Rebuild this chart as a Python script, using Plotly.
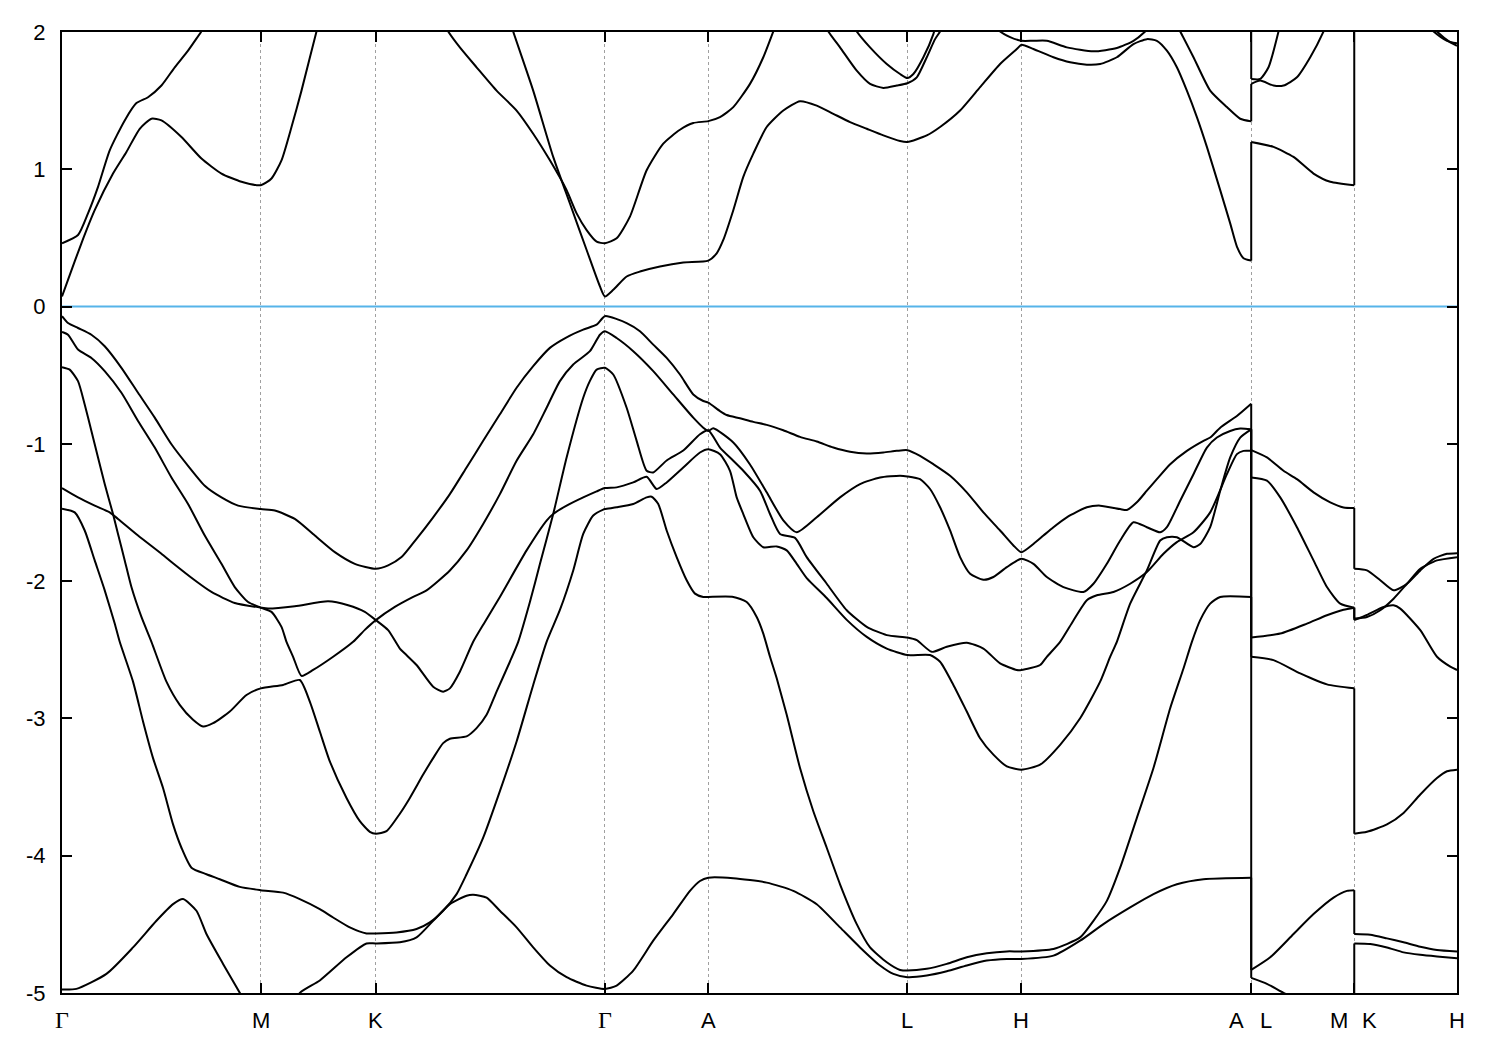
import plotly.graph_objects as go

# ---- axes / labels -------------------------------------------------------
k_ticks = [0.0, 1.987, 3.137, 5.427, 6.460, 8.450, 9.590, 11.887, 12.917, 13.944]
k_labels = ["Γ", "M", "K", "Γ", "A", "L", "H", "A|L", "M|K", "H"]
e_ticks = [2, 1, 0, -1, -2, -3, -4, -5]
e_tick_text = ["2", "1", "0", "-1", "-2", "-3", "-4", "-5"]
e_range = [-5, 2]
e_fermi = 0.0

# ---- valence bands (k, E in eV) ------------------------------------------
v1 = [(0.000,-0.070),(0.060,-0.120),(0.160,-0.156),(0.294,-0.205),(0.427,-0.289),(0.594,-0.446),(0.760,-0.628),(0.927,-0.809),(1.094,-1.003),(1.260,-1.160),(1.427,-1.305),(1.594,-1.390),(1.760,-1.450),(1.987,-1.475),
      (2.127,-1.486),(2.327,-1.547),(2.527,-1.668),(2.727,-1.789),(2.927,-1.874),(3.137,-1.910),
      (3.260,-1.885),(3.394,-1.825),(3.544,-1.692),(3.710,-1.535),(3.877,-1.366),(4.044,-1.172),(4.210,-0.978),(4.377,-0.785),(4.544,-0.591),(4.710,-0.434),(4.877,-0.301),(5.044,-0.224),(5.210,-0.168),(5.344,-0.132),(5.427,-0.070),
      (5.644,-0.120),(5.777,-0.180),(5.910,-0.277),(6.044,-0.374),(6.177,-0.495),(6.310,-0.640),(6.410,-0.688),(6.460,-0.700),
      (6.577,-0.761),(6.644,-0.790),(6.777,-0.814),(6.910,-0.840),(7.044,-0.862),(7.210,-0.901),(7.377,-0.949),(7.544,-0.983),(7.710,-1.027),(7.877,-1.058),(8.044,-1.070),(8.210,-1.063),(8.344,-1.051),(8.450,-1.046),
      (8.577,-1.087),(8.710,-1.148),(8.877,-1.232),(9.044,-1.353),(9.210,-1.499),(9.377,-1.631),(9.510,-1.740),(9.590,-1.789),
      (9.710,-1.729),(9.810,-1.668),(9.910,-1.607),(10.044,-1.535),(10.244,-1.462),(10.377,-1.450),(10.577,-1.475),(10.644,-1.482),(10.744,-1.426),(10.844,-1.341),(10.944,-1.257),(11.077,-1.148),(11.244,-1.051),(11.410,-0.978),(11.477,-0.954),(11.577,-0.882),(11.744,-0.797),(11.887,-0.708),
      (11.887,-1.046),(12.044,-1.099),(12.210,-1.196),(12.344,-1.257),(12.510,-1.353),(12.677,-1.426),(12.810,-1.463),(12.917,-1.467),
      (12.917,-1.910),(13.044,-1.922),(13.177,-1.994),(13.310,-2.067),(13.444,-2.019),(13.577,-1.922),(13.710,-1.837),(13.844,-1.801),(13.944,-1.796)]

v2 = [(0.000,-0.185),(0.060,-0.205),(0.160,-0.313),(0.294,-0.374),(0.427,-0.470),(0.594,-0.628),(0.760,-0.833),(0.927,-1.027),(1.094,-1.245),(1.260,-1.438),(1.427,-1.668),(1.594,-1.874),(1.727,-2.043),(1.860,-2.152),(1.987,-2.193),
      (2.094,-2.224),(2.194,-2.333),(2.244,-2.442),(2.310,-2.551),(2.394,-2.690),(2.510,-2.647),(2.710,-2.551),(2.910,-2.442),(3.027,-2.355),(3.137,-2.284),
      (3.327,-2.188),(3.510,-2.115),(3.644,-2.067),(3.877,-1.922),(4.044,-1.776),(4.210,-1.583),(4.377,-1.366),(4.544,-1.123),(4.710,-0.930),(4.844,-0.737),(4.977,-0.543),(5.110,-0.422),(5.277,-0.325),(5.377,-0.205),(5.427,-0.180),
      (5.544,-0.229),(5.710,-0.325),(5.910,-0.470),(6.110,-0.640),(6.310,-0.809),(6.410,-0.882),(6.460,-0.906),
      (6.510,-0.887),(6.710,-0.990),(6.877,-1.150),(7.044,-1.353),(7.210,-1.557),(7.344,-1.644),(7.544,-1.535),(7.777,-1.390),(7.977,-1.293),(8.177,-1.245),(8.377,-1.232),(8.450,-1.237),
      (8.577,-1.257),(8.677,-1.329),(8.777,-1.462),(8.877,-1.631),(8.977,-1.825),(9.077,-1.946),(9.210,-1.990),(9.310,-1.970),(9.444,-1.898),(9.590,-1.837),
      (9.710,-1.874),(9.844,-1.970),(10.010,-2.043),(10.210,-2.079),(10.310,-2.019),(10.444,-1.874),(10.577,-1.704),(10.710,-1.571),(10.844,-1.607),(10.977,-1.644),(11.044,-1.607),(11.177,-1.414),(11.310,-1.221),(11.444,-1.027),(11.544,-0.954),(11.677,-0.906),(11.777,-0.889),(11.887,-0.894),
      (11.887,-1.245),(12.044,-1.268),(12.177,-1.390),(12.344,-1.607),(12.510,-1.849),(12.644,-2.043),(12.777,-2.164),(12.917,-2.193),
      (12.917,-2.273),(13.044,-2.261),(13.177,-2.212),(13.310,-2.128),(13.444,-2.019),(13.577,-1.910),(13.744,-1.849),(13.944,-1.825)]

v3 = [(0.000,-0.441),(0.077,-0.459),(0.160,-0.543),(0.227,-0.713),(0.294,-0.906),(0.360,-1.099),(0.427,-1.293),(0.510,-1.511),(0.560,-1.656),(0.627,-1.849),(0.694,-2.043),(0.794,-2.261),(0.894,-2.442),(1.044,-2.732),(1.177,-2.901),(1.310,-3.010),(1.410,-3.059),(1.510,-3.035),(1.677,-2.950),(1.844,-2.829),(1.987,-2.781),
      (2.210,-2.756),(2.377,-2.720),(2.477,-2.877),(2.577,-3.095),(2.677,-3.313),(2.844,-3.579),(2.977,-3.748),(3.077,-3.826),(3.137,-3.840),
      (3.244,-3.821),(3.377,-3.694),(3.477,-3.579),(3.610,-3.409),(3.710,-3.289),(3.810,-3.180),(3.877,-3.148),(4.044,-3.131),(4.144,-3.071),(4.244,-2.974),(4.344,-2.805),(4.477,-2.587),(4.560,-2.442),(4.677,-2.152),(4.777,-1.876),(4.910,-1.511),(5.044,-1.099),(5.210,-0.664),(5.277,-0.541),(5.344,-0.459),(5.427,-0.446),
      (5.510,-0.495),(5.644,-0.737),(5.744,-0.978),(5.844,-1.196),(5.910,-1.208),(6.044,-1.121),(6.210,-1.049),(6.377,-0.930),(6.460,-0.901),
      (6.577,-1.027),(6.710,-1.123),(6.810,-1.196),(6.977,-1.341),(7.077,-1.511),(7.177,-1.656),(7.327,-1.685),(7.444,-1.825),(7.644,-2.019),(7.844,-2.212),(8.044,-2.333),(8.244,-2.393),(8.450,-2.411),
      (8.544,-2.430),(8.694,-2.515),(8.844,-2.478),(9.044,-2.449),(9.210,-2.491),(9.377,-2.599),(9.544,-2.647),(9.590,-2.647),
      (9.777,-2.611),(9.844,-2.551),(9.977,-2.442),(10.107,-2.290),(10.244,-2.139),(10.344,-2.103),(10.510,-2.079),(10.677,-2.019),(10.844,-1.934),(11.010,-1.801),(11.144,-1.716),(11.310,-1.644),(11.477,-1.499),(11.644,-1.221),(11.744,-1.075),(11.810,-1.051),(11.887,-1.051),
      (11.887,-2.551),(12.110,-2.575),(12.377,-2.672),(12.644,-2.752),(12.917,-2.781),
      (12.917,-3.840),(13.044,-3.826),(13.244,-3.772),(13.410,-3.688),(13.577,-3.554),(13.744,-3.434),(13.844,-3.385),(13.944,-3.373)]

v4 = [(0.000,-1.322),(0.160,-1.390),(0.327,-1.450),(0.477,-1.499),(0.560,-1.547),(0.760,-1.668),(0.994,-1.801),(1.094,-1.861),(1.327,-1.994),(1.494,-2.079),(1.727,-2.159),(1.987,-2.193),
      (2.060,-2.200),(2.327,-2.183),(2.660,-2.147),(2.860,-2.176),(3.027,-2.224),(3.137,-2.284),
      (3.260,-2.357),(3.377,-2.491),(3.427,-2.527),(3.544,-2.611),(3.710,-2.769),(3.810,-2.805),(3.877,-2.781),(3.977,-2.660),(4.110,-2.442),(4.227,-2.297),(4.377,-2.115),(4.644,-1.776),(4.844,-1.559),(4.910,-1.511),(5.044,-1.450),(5.210,-1.390),(5.344,-1.346),(5.427,-1.322),
      (5.544,-1.317),(5.710,-1.281),(5.844,-1.240),(5.944,-1.329),(6.044,-1.281),(6.210,-1.172),(6.377,-1.063),(6.460,-1.039),
      (6.577,-1.075),(6.677,-1.196),(6.744,-1.390),(6.810,-1.511),(6.910,-1.680),(7.010,-1.753),(7.144,-1.747),(7.244,-1.776),(7.344,-1.874),(7.444,-1.978),(7.644,-2.123),(7.844,-2.282),(8.044,-2.406),(8.244,-2.491),(8.450,-2.538),
      (8.677,-2.538),(8.777,-2.587),(8.910,-2.756),(9.044,-2.950),(9.177,-3.144),(9.310,-3.264),(9.444,-3.349),(9.590,-3.373),
      (9.777,-3.337),(9.977,-3.192),(10.177,-2.999),(10.377,-2.732),(10.477,-2.551),(10.544,-2.442),(10.677,-2.164),(10.844,-1.922),(10.977,-1.704),(11.044,-1.680),(11.144,-1.680),(11.310,-1.753),(11.377,-1.729),(11.477,-1.607),(11.577,-1.341),(11.677,-1.099),(11.777,-0.954),(11.887,-0.894),
      (11.887,-2.411),(12.177,-2.382),(12.444,-2.309),(12.644,-2.248),(12.810,-2.208),(12.917,-2.193),
      (12.917,-2.284),(13.044,-2.246),(13.210,-2.188),(13.310,-2.176),(13.377,-2.200),(13.577,-2.357),(13.744,-2.551),(13.877,-2.623),(13.944,-2.647)]

v5 = [(0.000,-1.472),(0.127,-1.499),(0.227,-1.631),(0.327,-1.849),(0.427,-2.067),(0.527,-2.309),(0.577,-2.442),(0.710,-2.732),(0.810,-3.022),(0.910,-3.289),(1.010,-3.507),(1.110,-3.772),(1.194,-3.942),(1.294,-4.087),(1.444,-4.135),(1.577,-4.171),(1.777,-4.227),(1.987,-4.251),
      (2.210,-4.269),(2.377,-4.316),(2.577,-4.389),(2.710,-4.450),(2.877,-4.522),(3.044,-4.566),(3.137,-4.566),
      (3.344,-4.559),(3.544,-4.534),(3.677,-4.486),(3.810,-4.401),(3.944,-4.280),(4.044,-4.135),(4.210,-3.869),(4.377,-3.530),(4.544,-3.168),(4.710,-2.756),(4.844,-2.442),(4.977,-2.210),(5.110,-1.922),(5.210,-1.656),(5.310,-1.522),(5.410,-1.479),(5.427,-1.475),
      (5.544,-1.462),(5.710,-1.438),(5.844,-1.390),(5.894,-1.385),(5.960,-1.438),(6.044,-1.631),(6.144,-1.825),(6.244,-1.994),(6.327,-2.091),(6.410,-2.115),(6.460,-2.115),
      (6.710,-2.115),(6.844,-2.152),(6.944,-2.261),(7.010,-2.382),(7.077,-2.551),(7.144,-2.708),(7.244,-2.974),(7.377,-3.361),(7.510,-3.676),(7.644,-3.942),(7.777,-4.208),(7.944,-4.498),(8.077,-4.668),(8.244,-4.776),(8.377,-4.832),(8.450,-4.837),
      (8.644,-4.824),(8.844,-4.788),(9.044,-4.740),(9.244,-4.711),(9.444,-4.697),(9.590,-4.697),
      (9.910,-4.679),(10.177,-4.595),(10.310,-4.474),(10.444,-4.329),(10.577,-4.087),(10.744,-3.724),(10.910,-3.361),(11.077,-2.926),(11.210,-2.636),(11.294,-2.442),(11.377,-2.284),(11.477,-2.164),(11.577,-2.115),(11.887,-2.115),
      (11.887,-4.832),(12.077,-4.740),(12.310,-4.570),(12.510,-4.425),(12.710,-4.305),(12.844,-4.256),(12.917,-4.251),
      (12.917,-4.570),(13.077,-4.575),(13.244,-4.602),(13.410,-4.631),(13.577,-4.663),(13.744,-4.686),(13.944,-4.697)]

v6 = [(0.000,-4.975),(0.144,-4.970),(0.444,-4.861),(0.710,-4.668),(0.944,-4.474),(1.110,-4.353),(1.210,-4.316),(1.344,-4.401),(1.444,-4.570),(1.610,-4.788),(1.777,-4.999),(1.987,-5.270),
      (2.177,-5.200),(2.377,-4.999),(2.577,-4.909),(2.844,-4.740),(3.044,-4.639),(3.137,-4.639),
      (3.377,-4.631),(3.544,-4.595),(3.710,-4.474),(3.877,-4.353),(4.044,-4.292),(4.110,-4.285),(4.244,-4.305),(4.377,-4.401),(4.544,-4.522),(4.710,-4.668),(4.877,-4.800),(5.044,-4.885),(5.244,-4.946),(5.427,-4.970),
      (5.544,-4.946),(5.710,-4.837),(5.910,-4.619),(6.110,-4.425),(6.277,-4.256),(6.377,-4.184),(6.460,-4.160),
      (6.710,-4.164),(7.044,-4.196),(7.310,-4.256),(7.544,-4.353),(7.777,-4.522),(7.977,-4.668),(8.177,-4.800),(8.310,-4.861),(8.450,-4.885),
      (8.644,-4.873),(8.844,-4.842),(9.044,-4.800),(9.244,-4.764),(9.444,-4.752),(9.590,-4.752),
      (9.910,-4.728),(10.177,-4.619),(10.410,-4.498),(10.677,-4.377),(10.910,-4.280),(11.144,-4.208),(11.410,-4.171),(11.887,-4.160),
      (11.887,-4.890),(12.044,-4.933),(12.210,-4.999),(12.577,-5.127),(12.917,-5.240),
      (12.917,-4.639),(13.077,-4.643),(13.244,-4.668),(13.410,-4.704),(13.577,-4.722),(13.744,-4.734),(13.944,-4.746)]

# ---- conduction bands ----------------------------------------------------
c1 = [(0.000,0.074),(0.060,0.195),(0.194,0.461),(0.327,0.702),(0.510,0.969),(0.644,1.126),(0.777,1.295),(0.894,1.368),(0.994,1.356),(1.194,1.235),(1.394,1.078),(1.594,0.969),(1.794,0.909),(1.987,0.884),
      (2.094,0.933),(2.194,1.065),(2.294,1.308),(2.394,1.573),(2.544,2.004),(2.677,2.350),
      (4.427,2.200),(4.510,2.004),(4.710,1.573),(4.910,1.090),(5.077,0.751),(5.244,0.412),(5.377,0.147),(5.427,0.074),
      (5.510,0.122),(5.644,0.219),(5.777,0.255),(5.977,0.292),(6.210,0.321),(6.460,0.335),
      (6.544,0.388),(6.610,0.485),(6.710,0.702),(6.810,0.945),(6.910,1.114),(7.044,1.308),(7.210,1.428),(7.377,1.496),(7.544,1.464),(7.710,1.404),(7.877,1.344),(8.044,1.295),(8.210,1.247),(8.377,1.206),(8.450,1.199),
      (8.644,1.247),(8.777,1.308),(8.977,1.428),(9.177,1.598),(9.377,1.767),(9.544,1.876),(9.590,1.907),
      (9.710,1.876),(9.910,1.816),(10.077,1.779),(10.244,1.762),(10.377,1.767),(10.544,1.816),(10.710,1.912),(10.844,1.948),(10.944,1.936),(11.044,1.864),(11.144,1.743),(11.244,1.573),(11.344,1.380),(11.444,1.163),(11.577,0.848),(11.677,0.606),(11.744,0.437),(11.810,0.352),(11.887,0.335),
      (11.887,1.199),(12.110,1.163),(12.310,1.090),(12.510,0.969),(12.677,0.909),(12.917,0.884),
      (12.917,2.600),(13.710,2.004),(13.844,1.936),(13.944,1.917)]

c2 = [(0.000,0.461),(0.160,0.521),(0.260,0.679),(0.360,0.872),(0.477,1.138),(0.627,1.356),(0.744,1.482),(0.860,1.525),(0.994,1.610),(1.127,1.743),(1.260,1.864),(1.387,1.997),(1.527,2.140),
      (3.677,2.240),(3.860,2.004),(3.977,1.888),(4.144,1.743),(4.344,1.573),(4.544,1.428),(4.710,1.259),(4.877,1.065),(5.044,0.848),(5.144,0.679),(5.244,0.557),(5.344,0.473),(5.427,0.461),
      (5.544,0.497),(5.677,0.655),(5.844,0.993),(6.010,1.187),(6.177,1.288),(6.310,1.337),(6.460,1.351),
      (6.577,1.380),(6.710,1.453),(6.877,1.622),(7.010,1.816),(7.110,2.004),(7.177,2.130)]

c3 = [(7.577,2.130),(7.660,2.004),(7.777,1.888),(7.944,1.718),(8.077,1.622),(8.210,1.593),(8.344,1.610),(8.450,1.627),(8.544,1.670),(8.644,1.816),(8.727,1.948),(8.777,2.004),(8.827,2.090)]

c4 = [(7.877,2.090),(7.944,2.004),(8.077,1.888),(8.244,1.767),(8.377,1.694),(8.450,1.665),(8.510,1.694),(8.610,1.816),(8.710,1.985),(8.737,2.060)]

c5 = [(9.277,2.090),(9.377,2.004),(9.477,1.963),(9.590,1.936),(9.710,1.936),(9.844,1.936),(10.044,1.888),(10.310,1.859),(10.544,1.883),(10.710,1.936),(10.827,2.004),(10.977,2.130),
      (11.887,2.600),(11.887,1.658),(11.977,1.658),(12.060,1.743),(12.160,2.004),(12.197,2.130)]

c6 = [(11.077,2.130),(11.177,2.004),(11.310,1.816),(11.477,1.573),(11.644,1.453),(11.777,1.368),(11.887,1.349),
      (11.887,1.622),(11.977,1.646),(12.110,1.610),(12.210,1.610),(12.344,1.670),(12.477,1.816),(12.610,2.004),(12.677,2.130),
      (12.917,2.700),(13.744,2.004),(13.877,1.924),(13.944,1.900)]

bands = [v1, v2, v3, v4, v5, v6, c1, c2, c3, c4, c5, c6]

# ---- figure ----------------------------------------------------------------
FONT = "Liberation Sans, Arial, Helvetica, sans-serif"
SERIF = "Liberation Serif, Times New Roman, serif"
LINE = dict(color="black", width=2)

fig = go.Figure()
for band in bands:
    # split into continuous pieces at the path discontinuities (equal k)
    pieces, cur = [], [band[0]]
    for p in band[1:]:
        if abs(p[0] - cur[-1][0]) < 1e-9:
            pieces.append(cur)
            # vertical connection across the discontinuity
            fig.add_trace(go.Scatter(x=[cur[-1][0], p[0]], y=[cur[-1][1], p[1]], mode="lines",
                                     line=LINE, hoverinfo="skip", showlegend=False))
            cur = [p]
        else:
            cur.append(p)
    pieces.append(cur)
    for pc in pieces:
        ks, es = zip(*pc)
        fig.add_trace(go.Scatter(x=list(ks), y=list(es), mode="lines",
                                 line=dict(color="black", width=2, shape="spline", smoothing=0.6),
                                 hoverinfo="skip", showlegend=False))

fig.add_trace(go.Scatter(x=[k_ticks[0], k_ticks[-1]], y=[e_fermi, e_fermi], mode="lines",
                         line=dict(color="#56B4E9", width=2),
                         hoverinfo="skip", showlegend=False))

annotations = []
for kv, lab in zip(k_ticks, k_labels):
    parts = lab.split("|")
    shifts = [0] if len(parts) == 1 else [-15, 15]
    for part, sh in zip(parts, shifts):
        if part == "Γ":
            fnt = dict(family=SERIF, size=24, color="black")
        else:
            fnt = dict(family=FONT, size=22, color="black")
        annotations.append(dict(x=kv, y=0, xref="x", yref="paper", text=part,
                                showarrow=False, xanchor="center", yanchor="middle",
                                xshift=sh, yshift=-27, font=fnt))

# figure sized so the page (with its default 8px body margin) fits the window
fig.update_layout(
    width=1484, height=1034,
    margin=dict(l=54, r=35, t=20, b=49),
    paper_bgcolor="white", plot_bgcolor="white",
    font=dict(family=FONT, size=22, color="black"),
    showlegend=False,
    annotations=annotations,
    xaxis=dict(range=[k_ticks[0], k_ticks[-1]], tickvals=k_ticks, ticktext=[""] * len(k_ticks),
               ticks="inside", ticklen=10, tickwidth=2, tickcolor="black",
               showline=True, linecolor="black", linewidth=2, mirror="ticks",
               showgrid=True, gridcolor="#a0a0a0", gridwidth=1, griddash="3px,3px",
               zeroline=False),
    yaxis=dict(range=e_range, tickvals=e_ticks, ticktext=e_tick_text,
               ticks="inside", ticklen=10, tickwidth=2, tickcolor="black",
               showline=True, linecolor="black", linewidth=2, mirror="ticks",
               showgrid=False, zeroline=False, ticklabelstandoff=10,
               tickfont=dict(family=FONT, size=22, color="black")),
)

fig.write_html("out.html")
